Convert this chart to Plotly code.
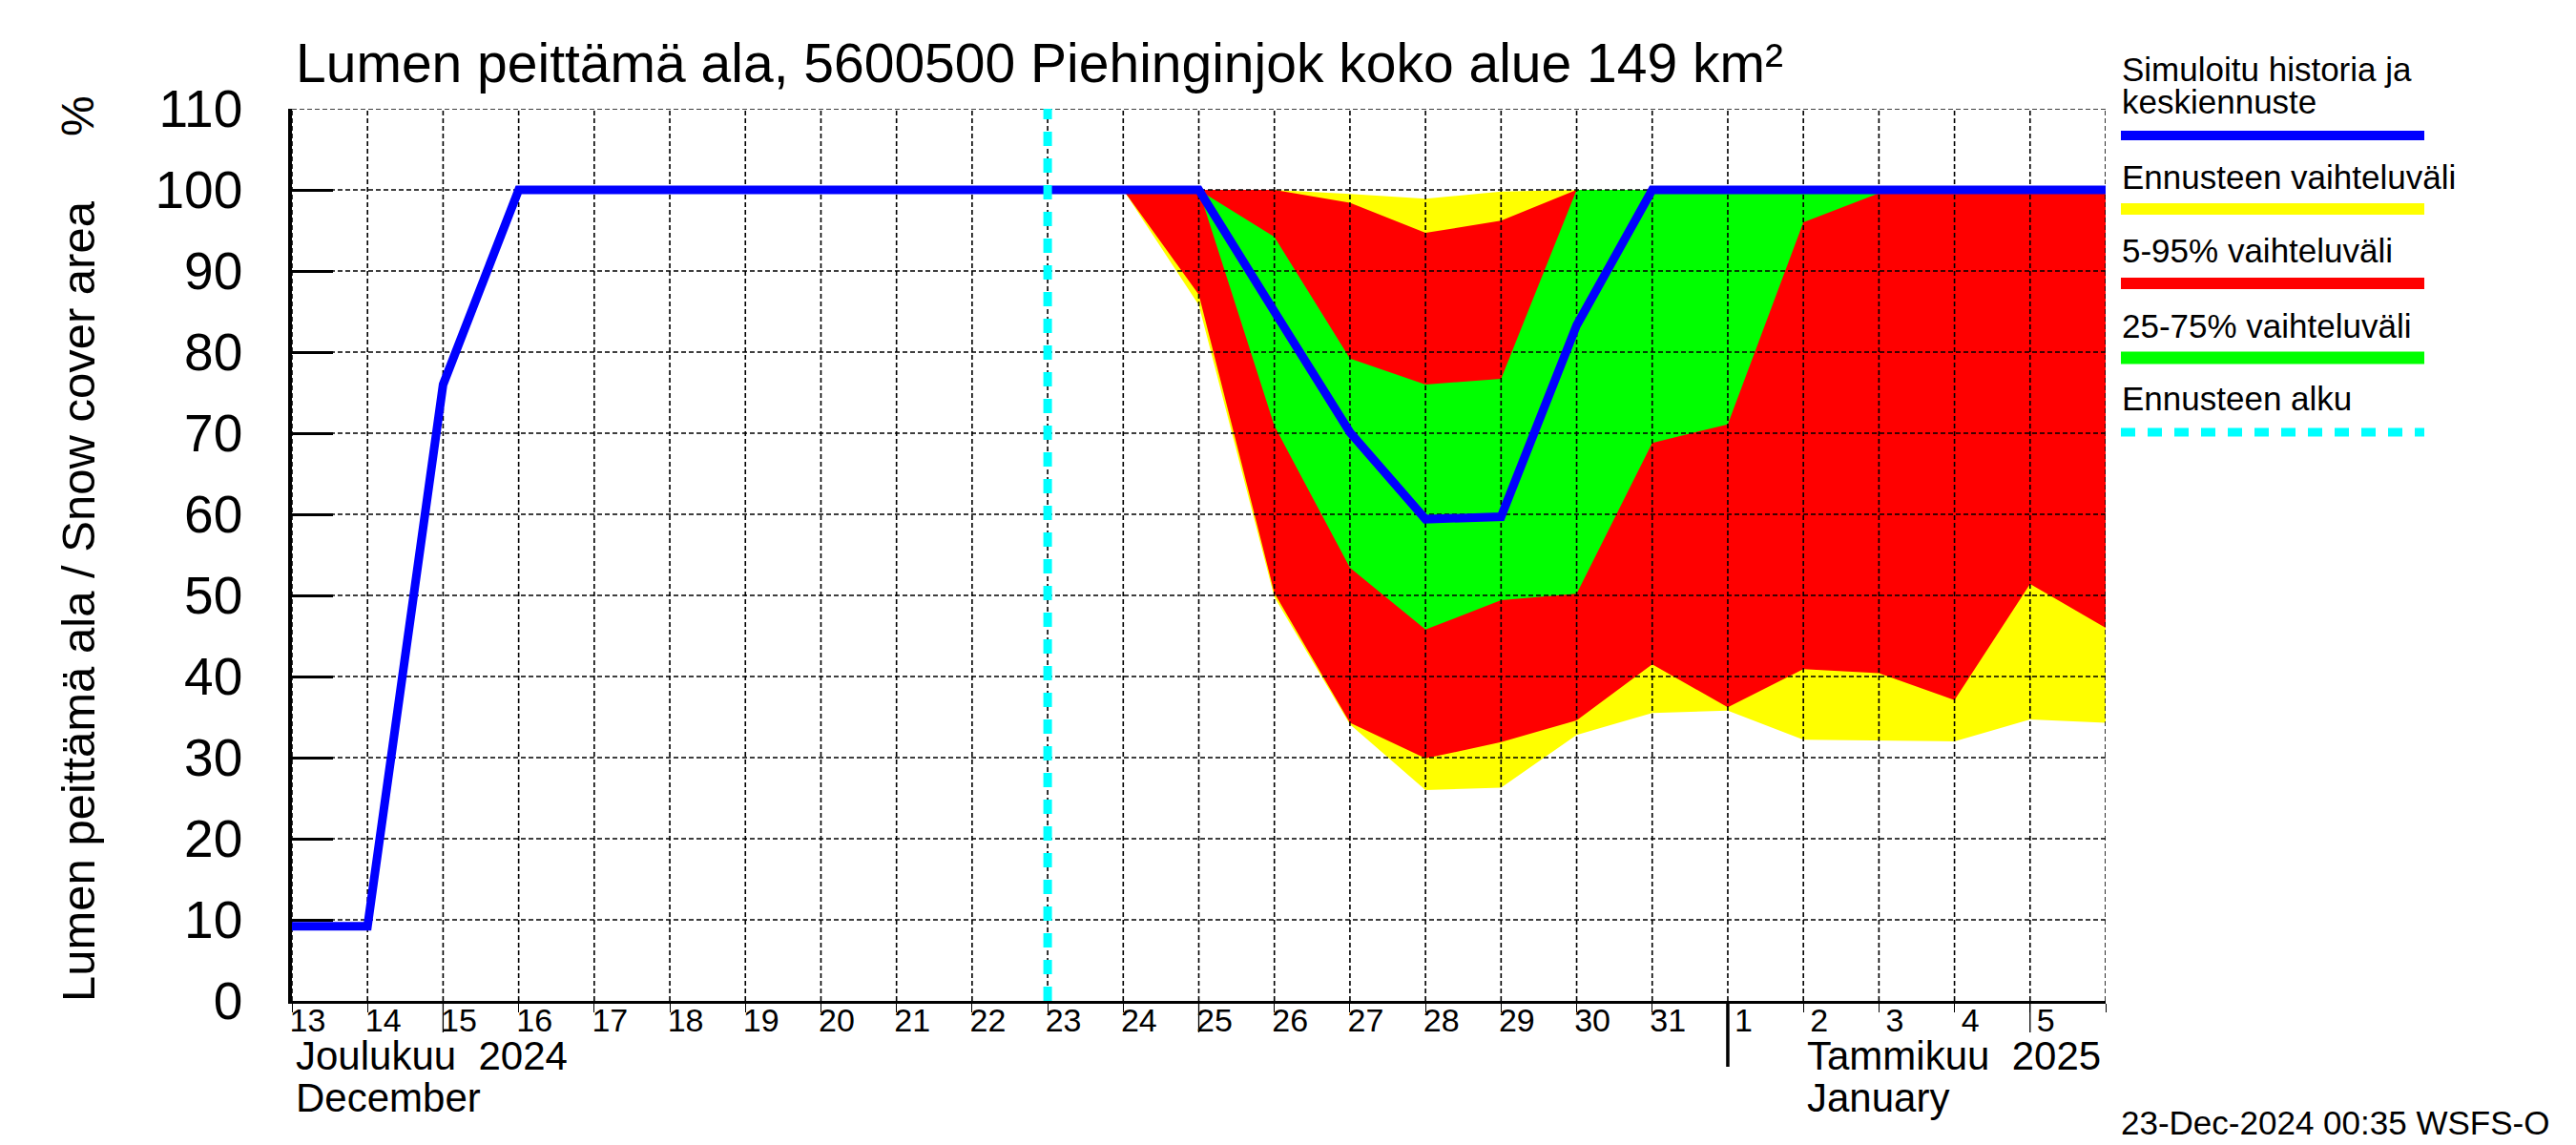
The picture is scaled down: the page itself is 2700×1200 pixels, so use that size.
import plotly.graph_objects as go
import pandas as pd

# ---------------- data ----------------
dates = ["2024-12-13", "2024-12-14", "2024-12-15", "2024-12-16", "2024-12-17",
         "2024-12-18", "2024-12-19", "2024-12-20", "2024-12-21", "2024-12-22",
         "2024-12-23", "2024-12-24", "2024-12-25", "2024-12-26", "2024-12-27",
         "2024-12-28", "2024-12-29", "2024-12-30", "2024-12-31", "2025-01-01",
         "2025-01-02", "2025-01-03", "2025-01-04", "2025-01-05", "2025-01-06"]

snow_mean = [9.2, 9.2, 76, 100, 100, 100, 100, 100, 100, 100, 100, 100, 100,
             85.0, 70.1, 59.4, 59.7, 83.3, 100, 100, 100, 100, 100, 100, 100]

fc_dates = ["2024-12-24", "2024-12-25", "2024-12-26", "2024-12-27", "2024-12-28",
            "2024-12-29", "2024-12-30", "2024-12-31", "2025-01-01", "2025-01-02",
            "2025-01-03", "2025-01-04", "2025-01-05", "2025-01-06"]

range_max = [100, 100, 100, 99.5, 98.9, 99.8, 100, 100, 100, 100, 100, 100, 100, 100]
range_min = [100, 85.8, 49.8, 34.1, 26.0, 26.3, 32.8, 35.5, 35.8, 32.2, 32.1, 32.0, 34.7, 34.3]
p95 = [100, 100, 100, 98.4, 94.7, 96.2, 100, 100, 100, 100, 100, 100, 100, 100]
p05 = [100, 87.1, 50.3, 34.3, 29.9, 31.9, 34.6, 41.5, 36.2, 40.9, 40.4, 37.1, 51.4, 46.0]
p75 = [100, 100, 94.2, 79.2, 76.0, 76.7, 100, 100, 100, 100, 100, 100, 100, 100]
p25 = [100, 100, 70.9, 53.4, 45.8, 49.4, 50.2, 68.8, 71.1, 96.0, 99.6, 100, 100, 100]

forecast_start = "2024-12-23 00:00"

day_labels = ["13", "14", "15", "16", "17", "18", "19", "20", "21", "22", "23",
              "24", "25", "26", "27", "28", "29", "30", "31", "1", "2", "3", "4", "5"]
y_ticks = [0, 10, 20, 30, 40, 50, 60, 70, 80, 90, 100, 110]
dekad_ticks = ["2024-12-15", "2024-12-25", "2025-01-05"]
month_starts = ["2025-01-01"]

title_text = "Lumen peittämä ala, 5600500 Piehinginjok koko alue 149 km²"
ytitle_text = "Lumen peittämä ala / Snow cover area"
legend_items = ["Ennusteen vaihteluväli", "5-95% vaihteluväli",
                "25-75% vaihteluväli", "Ennusteen alku"]
stamp_text = "23-Dec-2024 00:35 WSFS-O"

# ---------------- layout geometry (reference pixels) ----------------
OFF = 8                      # page body margin of the html page
W, H = 2700 - OFF, 1200 - OFF
L, R, T, B = 306, 2207, 114, 1049
FONT = "Liberation Sans, Arial, Helvetica, sans-serif"


def px_x(px):
    return (px - L) / (R - L)


def px_y(py):
    return (B - py) / (B - T)


fig = go.Figure()


def band(upper, lower, color):
    fig.add_trace(go.Scatter(
        x=fc_dates + fc_dates[::-1],
        y=upper + lower[::-1],
        fill="toself", fillcolor=color, mode="lines",
        line=dict(width=0, color=color), hoverinfo="skip", showlegend=False))


band(range_max, range_min, "#FFFF00")
band(p95, p05, "#FF0000")
band(p75, p25, "#00FF00")

# grid lines drawn above the bands
gx, gy = [], []
for d in dates:
    gx += [d, d, None]
    gy += [y_ticks[0], y_ticks[-1], None]
fig.add_trace(go.Scatter(x=gx, y=gy, mode="lines",
                         line=dict(color="black", width=1.6, dash="5px,3px"),
                         hoverinfo="skip", showlegend=False))
hx, hy = [], []
for v in y_ticks[1:]:
    hx += [dates[0], dates[-1], None]
    hy += [v, v, None]
fig.add_trace(go.Scatter(x=hx, y=hy, mode="lines",
                         line=dict(color="black", width=1.6, dash="5px,3px"),
                         hoverinfo="skip", showlegend=False))

# mean / history line
fig.add_trace(go.Scatter(x=dates, y=snow_mean, mode="lines",
                         line=dict(color="#0000FF", width=9),
                         hoverinfo="skip", showlegend=False))

# forecast start
fig.add_trace(go.Scatter(x=[forecast_start, forecast_start],
                         y=[y_ticks[0], y_ticks[-1]], mode="lines",
                         line=dict(color="#00FFFF", width=9, dash="15px,13px"),
                         hoverinfo="skip", showlegend=False))

label_pos = [(pd.Timestamp(d) + pd.Timedelta(hours=5)).strftime("%Y-%m-%d %H:%M")
             for d in dates[:len(day_labels)]]

shapes = []
for d in dekad_ticks:
    shapes.append(dict(type="line", xref="x", yref="paper", x0=d, x1=d,
                       y0=0, y1=px_y(B + 33), line=dict(color="black", width=1.3)))
for d in month_starts:
    shapes.append(dict(type="line", xref="x", yref="paper", x0=d, x1=d,
                       y0=0, y1=px_y(B + 69), line=dict(color="black", width=3.5)))

# legend samples
leg_x0, leg_x1 = px_x(2223), px_x(2541)
shapes.append(dict(type="line", xref="paper", yref="paper", x0=leg_x0, x1=leg_x1,
                   y0=px_y(142), y1=px_y(142), line=dict(color="#0000FF", width=10)))
shapes.append(dict(type="line", xref="paper", yref="paper", x0=leg_x0, x1=leg_x1,
                   y0=px_y(219), y1=px_y(219), line=dict(color="#FFFF00", width=12)))
shapes.append(dict(type="line", xref="paper", yref="paper", x0=leg_x0, x1=leg_x1,
                   y0=px_y(297), y1=px_y(297), line=dict(color="#FF0000", width=12)))
shapes.append(dict(type="line", xref="paper", yref="paper", x0=leg_x0, x1=leg_x1,
                   y0=px_y(375), y1=px_y(375), line=dict(color="#00FF00", width=13)))
shapes.append(dict(type="line", xref="paper", yref="paper", x0=leg_x0, x1=leg_x1,
                   y0=px_y(453), y1=px_y(453),
                   line=dict(color="#00FFFF", width=9, dash="15px,13px")))

ann = []


def text(s, px, py, size, xanchor="left", angle=0, xref="paper", xval=None):
    ann.append(dict(text=s, xref=xref, yref="paper",
                    x=px_x(px) if xval is None else xval, y=px_y(py),
                    xanchor=xanchor, yanchor="middle", showarrow=False,
                    textangle=angle, font=dict(family=FONT, size=size, color="black")))


text("Simuloitu historia ja", 2222, 72, 35)
text("keskiennuste", 2222, 107, 35)
for s, py in zip(legend_items, [185, 263, 341, 418]):
    text(s, 2222, py, 35)

text(ytitle_text, 82, 630, 49, xanchor="center", angle=-90)
text("%", 82, 122, 48, xanchor="center", angle=-90)

text("Joulukuu\u00a0\u00a02024", 0, 1106, 42, xref="x", xval=dates[0])
text("December", 0, 1150, 42, xref="x", xval=dates[0])
text("Tammikuu\u00a0\u00a02025", 0, 1106, 42, xref="x", xval=dates[20])
text("January", 0, 1150, 42, xref="x", xval=dates[20])
text(stamp_text, 2674, 1176, 35, xanchor="right")
for a in ann:
    if a["xref"] == "x":
        a["xshift"] = 2

fig.update_layout(
    width=W, height=H,
    margin=dict(l=L - OFF, r=2700 - R, t=T - OFF, b=1200 - B, pad=0),
    paper_bgcolor="white", plot_bgcolor="white",
    template="none",
    showlegend=False,
    title=dict(text=title_text, x=(310 - OFF) / W, xanchor="left", xref="container",
               y=1 - (66 - OFF) / H, yanchor="middle", yref="container",
               font=dict(family=FONT, size=57, color="black")),
    font=dict(family=FONT, color="black"),
    shapes=shapes, annotations=ann,
)

fig.update_xaxes(type="date", range=[dates[0], dates[-1]],
                 tickmode="array", tickvals=label_pos, ticktext=day_labels,
                 ticks="", showgrid=False, zeroline=False,
                 showline=True, linecolor="black", linewidth=3.3,
                 ticklabelstandoff=-12,
                 tickfont=dict(family=FONT, size=34, color="black"),
                 minor=dict(tickmode="array", tickvals=dates, ticks="outside",
                            ticklen=9, tickwidth=1.3, tickcolor="black", showgrid=False))
fig.update_yaxes(range=[0, 110], tickmode="array", tickvals=y_ticks,
                 ticks="inside", ticklen=43, tickwidth=3, tickcolor="black",
                 showgrid=False, zeroline=False,
                 showline=True, linecolor="black", linewidth=3.5,
                 ticklabelstandoff=37,
                 tickfont=dict(family=FONT, size=55, color="black"))

fig.write_html("out.html")
